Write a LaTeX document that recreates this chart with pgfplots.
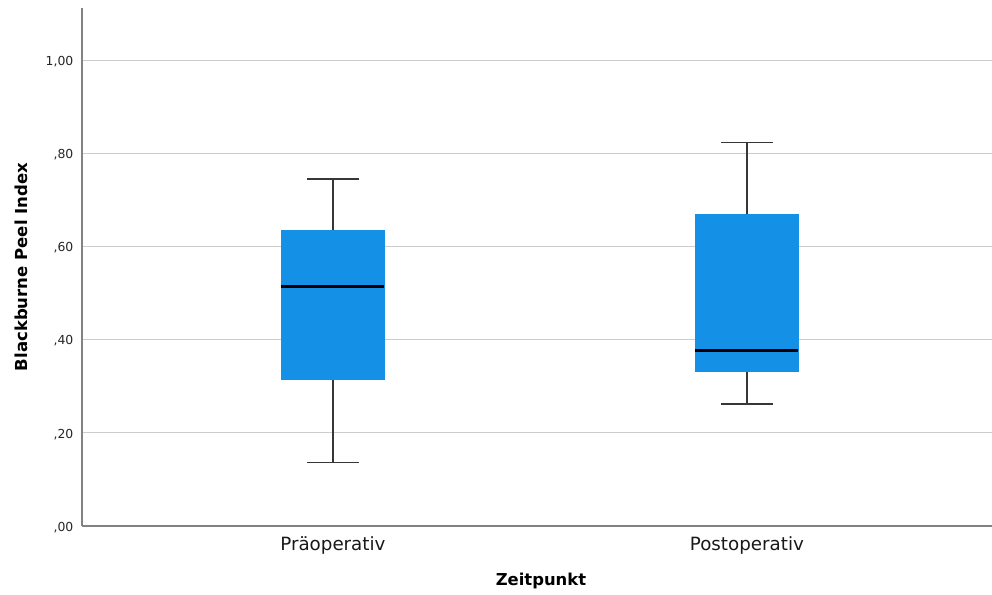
\documentclass[border=0pt]{standalone}
\usepackage{fontspec}
\setmainfont{DejaVu Sans}
\usepackage{pgfplots}
\pgfplotsset{compat=1.18}
\usepgfplotslibrary{statistics}
\definecolor{boxblue}{RGB}{20,144,230}
\definecolor{gridgray}{RGB}{204,204,204}
\definecolor{axisgray}{RGB}{130,130,130}
\definecolor{whiskgray}{RGB}{55,55,55}
\begin{document}
\begin{tikzpicture}
\begin{axis}[
  at={(61.5pt,51pt)}, anchor=south west,
  scale only axis, width=682.5pt, height=388.5pt,
  xmin=0.394, xmax=2.592, ymin=0, ymax=1.112,
  axis x line*=bottom, axis y line*=left,
  axis line style={draw=axisgray, line width=1pt},
  major tick length=0pt,
  xtick={1,2}, xticklabels={Präoperativ,Postoperativ},
  ytick={0,0.2,0.4,0.6,0.8,1.0},
  yticklabels={{,00},{,20},{,40},{,60},{,80},{1,00}},
  /pgf/number format/assume math mode=true,
  ymajorgrids, grid style={draw=gridgray, line width=0.9pt},
  yticklabel style={font=\fontsize{9.3}{11}\selectfont, text=black!85, anchor=east, xshift=-3pt, yshift=-1pt},
  xticklabel style={font=\fontsize{13.7}{16}\selectfont, text=black!90, anchor=base, yshift=-18.5pt},
  xlabel={Zeitpunkt}, ylabel={Blackburne Peel Index},
  xlabel style={font=\bfseries\fontsize{12.3}{14}\selectfont, at={(axis description cs:0.5044,-0.1153)}, anchor=base},
  ylabel style={font=\bfseries\fontsize{12.4}{14}\selectfont, at={(axis description cs:-0.0604,0.5)}, anchor=base, rotate=0},
  boxplot/draw direction=y,
  boxplot/every box/.style={fill=boxblue, draw=boxblue, line width=0.5pt},
  boxplot/every whisker/.style={draw=whiskgray, line width=1.05pt},
  boxplot/every median/.style={draw=black, line width=2.2pt},
]
\addplot[boxplot prepared={lower whisker=0.136, lower quartile=0.315, median=0.514, upper quartile=0.635, upper whisker=0.745, box extend=0.249, whisker extend=0.1256, draw position=1}] coordinates {};
\addplot[boxplot prepared={lower whisker=0.262, lower quartile=0.331, median=0.376, upper quartile=0.669, upper whisker=0.823, box extend=0.249, whisker extend=0.1256, draw position=2}] coordinates {};
\end{axis}
\pgfresetboundingbox
\path[use as bounding box] (0,0) rectangle (744pt,445.5pt);
\end{tikzpicture}
\end{document}
